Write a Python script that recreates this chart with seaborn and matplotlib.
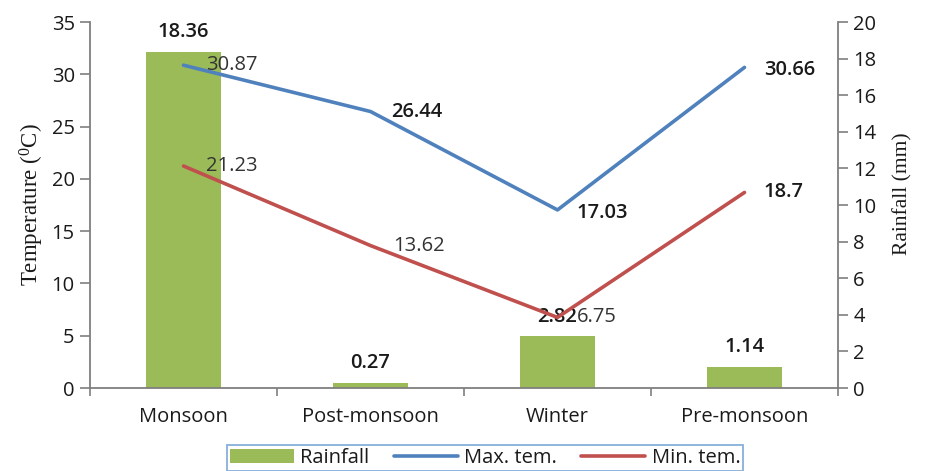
import numpy as np
import pandas as pd
import matplotlib
matplotlib.use("Agg")
import matplotlib.pyplot as plt
from matplotlib.patches import Patch
from matplotlib.lines import Line2D
import seaborn as sns

# Seasonal climate summary
seasons = ["Monsoon", "Post-monsoon", "Winter", "Pre-monsoon"]
rainfall = [18.36, 0.27, 2.82, 1.14]
max_temp = [30.87, 26.44, 17.03, 30.66]
min_temp = [21.23, 13.62, 6.75, 18.7]
temp_ticks = [0, 5, 10, 15, 20, 25, 30, 35]
rain_ticks = [0, 2, 4, 6, 8, 10, 12, 14, 16, 18, 20]

BAR = "#9BBB59"
BLUE = "#4F81BD"
RED = "#C0504D"
SPINE = "#7F7F7F"
INK = "#1a1a1a"
FS = 14.5

sns.set_theme(style="white")
plt.rcParams["font.family"] = ["Open Sans", "DejaVu Sans"]
plt.rcParams["mathtext.fontset"] = "custom"
plt.rcParams["mathtext.rm"] = "Liberation Serif"

df = pd.DataFrame({"season": seasons, "rain": rainfall,
                   "tmax": max_temp, "tmin": min_temp})
df["pos"] = np.arange(len(seasons))

fig = plt.figure(figsize=(9.28, 4.71), dpi=100)
ax_t = fig.add_axes([90 / 928, 1 - 388 / 471, 748 / 928, 366 / 471])
ax_r = ax_t.twinx()

# rainfall bars on the right-hand scale
sns.barplot(data=df, x="pos", y="rain", ax=ax_r, color=BAR, width=0.4,
            saturation=1, native_scale=True, edgecolor="none")
ax_r.set_ylim(0, 20)
ax_r.set_yticks(rain_ticks)

# temperature lines on the left-hand scale, drawn above the bars
sns.lineplot(data=df, x="pos", y="tmax", ax=ax_t, color=BLUE, lw=2.6)
sns.lineplot(data=df, x="pos", y="tmin", ax=ax_t, color=RED, lw=2.6)
ax_t.set_ylim(0, 35)
ax_t.set_yticks(temp_ticks)
ax_t.set_zorder(ax_r.get_zorder() + 1)
ax_t.patch.set_visible(False)

ax_t.set_xlim(-0.5, len(seasons) - 0.5)
ax_t.set_xticks(np.arange(len(seasons)))
ax_t.set_xticklabels(seasons)
ax_t.set_xticks(np.arange(len(seasons) + 1) - 0.5, minor=True)
ax_t.tick_params(axis="x", which="major", length=0, pad=14, labelsize=FS,
                 colors=INK)
ax_t.tick_params(axis="x", which="minor", length=6, width=1.2, color=SPINE,
                 direction="out", bottom=True)
ax_t.tick_params(axis="y", length=7, width=1.2, color=SPINE, direction="out",
                 labelsize=FS, labelcolor=INK, pad=4)
ax_r.tick_params(axis="y", length=7, width=1.2, color=SPINE, direction="out",
                 labelsize=FS, labelcolor=INK, pad=4)
ax_r.set_xlabel("")
ax_t.set_xlabel("")

for a in (ax_t, ax_r):
    for s in a.spines.values():
        s.set_visible(False)
ax_t.spines["left"].set_visible(True)
ax_t.spines["bottom"].set_visible(True)
ax_r.spines["right"].set_visible(True)
for a, side in ((ax_t, "left"), (ax_t, "bottom"), (ax_r, "right")):
    a.spines[side].set_color(SPINE)
    a.spines[side].set_linewidth(1.3)

ax_t.set_ylabel(r"Temperature ($\mathregular{^0}$C)", family="Liberation Serif",
                fontsize=16.5, color=INK, labelpad=4)
ax_r.set_ylabel("Rainfall (mm)", family="Liberation Serif", fontsize=15.5,
                color=INK, rotation=90, labelpad=6)
ax_r.yaxis.set_label_coords(1.074, 0.53)

# value labels
for i, v in enumerate(rainfall):
    ax_r.annotate(f"{v:g}", (i, v), xytext=(0, 7), textcoords="offset points",
                  ha="center", va="bottom", fontsize=FS, fontweight="semibold",
                  color=INK)

tmax_off = [(16, 0), (15, 0), (14, -2), (14, -2)]
tmax_w = ["normal", "semibold", "semibold", "semibold"]
for i, v in enumerate(max_temp):
    ax_t.annotate(f"{v:g}", (i, v), xytext=tmax_off[i], textcoords="offset points",
                  ha="left", va="center", fontsize=FS, fontweight=tmax_w[i],
                  color="#333333" if tmax_w[i] == "normal" else INK)

tmin_off = [(16, 0), (16, 0), (14, 0), (14, 0)]
tmin_w = ["normal", "normal", "normal", "semibold"]
for i, v in enumerate(min_temp):
    ax_t.annotate(f"{v:g}", (i, v), xytext=tmin_off[i], textcoords="offset points",
                  ha="left", va="center", fontsize=FS, fontweight=tmin_w[i],
                  color="#333333" if tmin_w[i] == "normal" else INK)

handles = [Patch(facecolor=BAR, edgecolor="none"),
           Line2D([], [], color=BLUE, lw=2.6),
           Line2D([], [], color=RED, lw=2.6)]
leg = fig.legend(handles, ["Rainfall", "Max. tem.", "Min. tem."], ncol=3,
                 loc="upper center", bbox_to_anchor=(485 / 928, 1 - 445 / 471),
                 borderaxespad=0, frameon=True, fancybox=False, fontsize=FS,
                 handlelength=3.2, handletextpad=0.3, columnspacing=1.2,
                 borderpad=0.15)
leg.get_frame().set_edgecolor("#6A9BD1")
leg.get_frame().set_linewidth(1.3)
for t in leg.get_texts():
    t.set_color(INK)

fig.savefig("out.png", dpi=100)
